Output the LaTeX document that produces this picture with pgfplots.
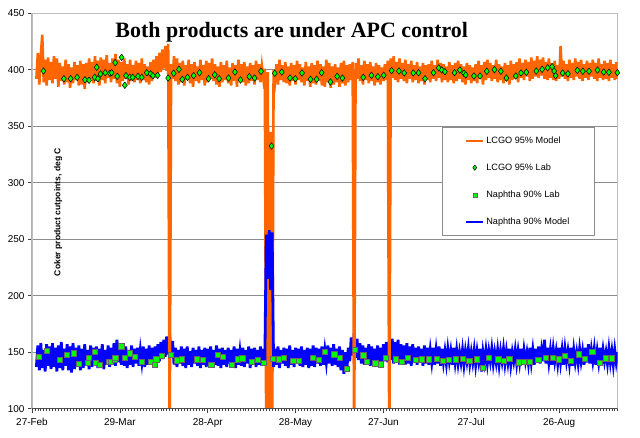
\documentclass[border=0pt]{standalone}
\usepackage{fontspec}
\setmainfont{Liberation Sans}
\newfontfamily\titlefont{Liberation Serif}
\usepackage{pgfplots}
\pgfplotsset{compat=1.18}
\definecolor{lcgo}{RGB}{255,102,0}
\definecolor{nap}{RGB}{0,0,255}
\definecolor{labg}{RGB}{0,255,0}
\begin{document}
\begin{tikzpicture}
\begin{axis}[
  scale only axis, width=585.7bp, height=395.4bp,
  xmin=0, xmax=200, ymin=100, ymax=450,
  xtick={0,30,...,180},
  xticklabels={27-Feb,29-Mar,28-Apr,28-May,27-Jun,27-Jul,26-Aug},
  minor xtick={0,1,...,200},
  ytick={100,150,...,450},
  ymajorgrids, grid style={black!45, line width=0.8bp},
  axis line style={black!25, line width=1.4bp},
  tick style={black!75, line width=0.6bp},
  major tick length=4bp, minor tick length=2.5bp,
  tick align=outside, tick pos=left,
  tick label style={font=\fontsize{10}{12}\selectfont},
  xticklabel style={yshift=-2bp},
  /pgf/number format/assume math mode=true,
  legend cell align=left,
  legend style={at={(0.700,0.712)}, anchor=north west, draw=black!45, fill=white,
    line width=0.6bp, font=\fontsize{9.2}{11}\selectfont,
    inner xsep=23bp, inner ysep=7bp, row sep=15bp},
]
% Naphtha 90% Model, part A
\addplot[nap, line width=2.8bp, forget plot] table[header=false, row sep=\\, x expr={1.5+0.5*\coordindex}, y index=0] {
137\\ 156\\ 134\\ 158\\ 136\\ 152\\ 133\\ 157\\ 138\\ 155\\
135\\ 158\\ 137\\ 154\\ 133\\ 156\\ 136\\ 159\\ 134\\ 153\\
138\\ 157\\ 134\\ 155\\ 132\\ 158\\ 135\\ 154\\ 137\\ 156\\
134\\ 153\\ 136\\ 157\\ 138\\ 152\\ 135\\ 156\\ 137\\ 154\\
139\\ 155\\ 136\\ 153\\ 138\\ 157\\ 135\\ 152\\ 139\\ 156\\
137\\ 154\\ 140\\ 158\\ 138\\ 161\\ 141\\ 155\\ 139\\ 153\\
138\\ 155\\ 136\\ 152\\ 139\\ 156\\ 137\\ 153\\ 140\\ 154\\
138\\ 152\\ 141\\ 155\\ 137\\ 153\\ 139\\ 156\\ 140\\ 154\\
141\\ 155\\ 139\\ 157\\ 142\\ 159\\ 144\\ 161\\ 146\\ 164\\
148\\ 166\\ 147\\ 160\\ 139\\ 154\\ 137\\ 152\\ 140\\ 155\\
138\\ 153\\ 136\\ 155\\ 139\\ 151\\ 137\\ 154\\ 140\\ 152\\
138\\ 155\\ 136\\ 152\\ 139\\ 154\\ 137\\ 153\\ 140\\ 155\\
137\\ 152\\ 139\\ 156\\ 138\\ 153\\ 136\\ 154\\ 139\\ 152\\
137\\ 154\\ 140\\ 152\\ 138\\ 155\\ 136\\ 153\\ 139\\ 151\\
138\\ 154\\ 137\\ 152\\ 140\\ 155\\ 136\\ 153\\ 139\\ 154\\
137\\ 152\\ 139\\ 155\\ 138\\ 153\\ 140\\
};
% Naphtha 90% Model, part C
\addplot[nap, line width=2.8bp, forget plot] table[header=false, row sep=\\, x expr={82.5+0.5*\coordindex}, y index=0] {
137\\ 153\\ 139\\ 155\\ 136\\ 152\\ 140\\ 154\\
138\\ 153\\ 136\\ 156\\ 139\\ 152\\ 137\\ 154\\ 140\\ 153\\
138\\ 155\\ 137\\ 152\\ 139\\ 154\\ 136\\ 153\\ 138\\ 156\\
137\\ 154\\ 140\\ 153\\ 138\\ 155\\ 139\\ 152\\ 141\\ 156\\
140\\ 154\\ 138\\ 157\\ 139\\ 153\\ 137\\ 155\\ 134\\ 152\\
131\\ 150\\ 133\\ 154\\ 142\\ 163\\ 147\\ 167\\ 145\\ 162\\
143\\ 158\\ 140\\ 156\\ 139\\ 154\\ 141\\ 157\\ 138\\ 155\\
139\\ 153\\ 141\\ 156\\ 138\\ 154\\ 140\\ 157\\ 142\\ 159\\
141\\ 160\\ 143\\ 162\\ 140\\ 159\\ 142\\ 161\\ 139\\ 157\\
141\\ 156\\ 139\\ 158\\ 140\\ 155\\ 138\\ 157\\ 141\\ 154\\
139\\ 155\\ 141\\ 153\\ 138\\ 156\\ 140\\ 154\\ 139\\ 152\\
141\\ 154\\ 139\\ 152\\ 140\\ 155\\ 138\\ 153\\ 141\\ 151\\
140\\ 153\\ 142\\ 151\\ 139\\ 154\\ 141\\ 152\\ 140\\ 150\\
141\\ 152\\ 139\\ 151\\ 142\\ 153\\ 140\\ 150\\ 141\\ 152\\
139\\ 151\\ 142\\ 153\\ 133\\ 150\\ 141\\ 152\\ 140\\ 151\\
142\\ 153\\ 140\\ 150\\ 141\\ 152\\ 139\\ 151\\ 142\\ 153\\
140\\ 151\\ 141\\ 153\\ 139\\ 150\\ 142\\ 152\\ 140\\ 151\\
141\\ 153\\ 139\\ 152\\ 142\\ 150\\ 140\\ 154\\ 141\\ 152\\
139\\ 153\\ 141\\ 155\\ 140\\ 152\\ 142\\ 161\\ 140\\ 154\\
141\\ 152\\ 139\\ 153\\ 142\\ 151\\ 140\\ 154\\ 141\\ 152\\
139\\ 153\\ 142\\ 151\\ 140\\ 154\\ 138\\ 152\\ 141\\ 150\\
140\\ 153\\ 142\\ 151\\ 139\\ 154\\ 141\\ 157\\ 140\\ 152\\
142\\ 153\\ 139\\ 151\\ 141\\ 154\\ 140\\ 152\\ 142\\ 150\\
140\\ 153\\ 141\\ 151\\ 139\\ 152\\ 141\\ 150\\
};
% LCGO 95% Model
\addplot[lcgo, line width=2.6bp, forget plot] table[header=false, row sep=\\, x expr={1.5+0.5*\coordindex}, y index=0] {
392\\ 415\\ 387\\ 412\\ 431\\ 389\\ 409\\ 386\\ 411\\ 391\\
407\\ 388\\ 412\\ 392\\ 410\\ 385\\ 406\\ 390\\ 403\\ 387\\
409\\ 389\\ 405\\ 384\\ 402\\ 388\\ 407\\ 391\\ 404\\ 386\\
408\\ 387\\ 405\\ 383\\ 406\\ 389\\ 410\\ 392\\ 407\\ 388\\
412\\ 390\\ 408\\ 386\\ 411\\ 391\\ 409\\ 388\\ 413\\ 393\\
406\\ 389\\ 410\\ 392\\ 414\\ 388\\ 409\\ 385\\ 407\\ 390\\
410\\ 392\\ 405\\ 387\\ 409\\ 390\\ 404\\ 389\\ 408\\ 391\\
406\\ 388\\ 410\\ 391\\ 405\\ 389\\ 403\\ 387\\ 407\\ 390\\
409\\ 393\\ 412\\ 395\\ 415\\ 398\\ 418\\ 401\\ 421\\ 399\\
423\\ 60\\ 405\\ 392\\ 412\\ 390\\ 410\\ 387\\ 406\\ 389\\
408\\ 386\\ 404\\ 391\\ 409\\ 388\\ 405\\ 385\\ 407\\ 390\\
403\\ 388\\ 409\\ 391\\ 404\\ 386\\ 408\\ 389\\ 406\\ 392\\
410\\ 390\\ 405\\ 387\\ 403\\ 385\\ 407\\ 389\\ 404\\ 391\\
408\\ 388\\ 402\\ 386\\ 406\\ 390\\ 404\\ 385\\ 409\\ 391\\
405\\ 389\\ 407\\ 386\\ 403\\ 388\\ 406\\ 390\\ 404\\ 387\\
408\\ 391\\ 405\\ 389\\ 403\\ 392\\ 401\\ 60\\ 398\\ 60\\
345\\ 60\\ 400\\ 390\\ 405\\ 387\\ 409\\ 391\\ 404\\ 389\\
407\\ 388\\ 403\\ 386\\ 406\\ 390\\ 404\\ 387\\ 408\\ 391\\
405\\ 389\\ 402\\ 386\\ 407\\ 390\\ 403\\ 385\\ 406\\ 388\\
404\\ 387\\ 408\\ 390\\ 405\\ 386\\ 403\\ 385\\ 409\\ 389\\
406\\ 384\\ 403\\ 387\\ 405\\ 389\\ 402\\ 385\\ 406\\ 388\\
408\\ 386\\ 404\\ 389\\ 405\\ 391\\ 407\\ 60\\ 406\\ 392\\
410\\ 390\\ 404\\ 387\\ 408\\ 391\\ 405\\ 388\\ 407\\ 390\\
403\\ 386\\ 406\\ 389\\ 404\\ 387\\ 402\\ 390\\ 405\\ 391\\
408\\ 60\\ 410\\ 393\\ 412\\ 391\\ 407\\ 389\\ 410\\ 392\\
406\\ 390\\ 409\\ 388\\ 405\\ 392\\ 408\\ 389\\ 404\\ 391\\
407\\ 388\\ 403\\ 390\\ 406\\ 387\\ 404\\ 391\\ 405\\ 389\\
408\\ 392\\ 404\\ 390\\ 409\\ 393\\ 406\\ 389\\ 405\\ 391\\
403\\ 389\\ 407\\ 391\\ 404\\ 388\\ 406\\ 390\\ 408\\ 392\\
405\\ 389\\ 403\\ 387\\ 406\\ 391\\ 404\\ 388\\ 402\\ 390\\
405\\ 388\\ 408\\ 392\\ 404\\ 387\\ 407\\ 391\\ 409\\ 393\\
406\\ 390\\ 404\\ 392\\ 409\\ 389\\ 405\\ 391\\ 403\\ 388\\
406\\ 390\\ 404\\ 387\\ 408\\ 391\\ 405\\ 392\\ 407\\ 389\\
410\\ 393\\ 406\\ 391\\ 409\\ 394\\ 407\\ 390\\ 411\\ 392\\
408\\ 394\\ 412\\ 393\\ 409\\ 395\\ 411\\ 392\\ 407\\ 391\\
410\\ 393\\ 406\\ 391\\ 408\\ 390\\ 404\\ 392\\ 421\\ 394\\
408\\ 392\\ 405\\ 390\\ 409\\ 393\\ 406\\ 391\\ 410\\ 394\\
407\\ 392\\ 409\\ 390\\ 405\\ 393\\ 408\\ 391\\ 406\\ 394\\
409\\ 392\\ 406\\ 390\\ 410\\ 393\\ 405\\ 391\\ 408\\ 392\\
406\\ 390\\ 409\\ 393\\ 405\\ 391\\ 407\\ 392\\
};
% Naphtha 90% Model, part B (spike, drawn over LCGO)
\addplot[nap, line width=2.8bp, forget plot] table[header=false, row sep=\\, x expr={79.5+0.5*\coordindex}, y index=0] {
140\\ 254\\ 215\\ 258\\ 205\\ 256\\ 137\\
};
% LCGO 95% Lab
\addplot[only marks, mark=diamond*, mark size=3.3bp, mark options={fill=labg, draw=black, line width=0.5bp}, forget plot] coordinates {
(3.9,398.9)(10.9,392.1)(13.2,392.1)(15.4,393.3)(18.1,391.2)(19.5,390.7)(21.4,393.3)(22.1,402.2)(22.5,392.1)(23.4,396.3)
(25.0,397.4)(26.6,396.9)(27.2,397.4)(28.4,406.3)(29.1,394.2)(30.6,411.0)(31.7,386.3)(32.1,394.8)(33.4,393.3)(34.4,393.3)
(36.2,394.2)(37.5,393.3)(39.2,397.4)(40.5,396.3)(41.3,394.8)(42.9,395.1)(46.5,392.7)(48.4,396.9)(50.2,400.4)(51.3,391.6)
(53.1,393.3)(55.2,394.8)(57.2,397.4)(60.3,392.1)(62.4,395.6)(63.9,392.1)(67.1,392.7)(69.3,398.0)(71.2,391.0)(74.2,393.9)
(76.0,392.7)(78.2,398.6)(81.8,332.5)(82.9,396.9)(85.3,398.0)(88.1,392.7)(89.9,392.1)(92.2,397.2)(95.1,391.6)(97.2,391.6)
(98.9,397.4)(101.9,389.2)(104.2,394.2)(106.0,392.7)(113.1,393.3)(115.9,395.1)(118.1,393.9)(120.1,395.1)(122.8,399.2)(125.3,398.9)
(127.1,397.2)(130.2,397.2)(132.0,397.4)(134.2,392.1)(137.1,397.4)(138.9,401.6)(139.9,399.8)(141.0,398.3)(144.3,397.4)(146.1,399.8)
(147.5,396.9)(148.1,395.4)(150.9,394.5)(153.0,394.5)(155.3,398.7)(157.9,400.1)(160.1,398.7)(162.0,392.7)(165.2,394.5)(167.0,397.2)
(168.8,397.8)(172.2,398.9)(174.2,400.4)(176.1,401.8)(177.6,402.7)(178.3,398.9)(178.8,394.8)(181.2,397.2)(183.0,396.5)(186.2,399.5)
(188.1,398.7)(190.2,398.7)(193.1,399.8)(195.2,398.0)(197.0,397.8)(199.9,397.4)
};
% Naphtha 90% Lab
\addplot[only marks, mark=square*, mark size=2.6bp, mark options={fill=labg, draw=black!60, line width=0.5bp}, forget plot] coordinates {
(2.2,146.0)(5.0,151.1)(9.5,143.1)(12.0,147.5)(14.2,149.0)(16.0,139.6)(19.1,140.7)(19.4,145.1)(21.3,150.1)(21.8,140.7)
(23.2,139.0)(26.2,141.3)(27.0,141.9)(28.3,143.1)(28.4,145.1)(30.5,155.2)(31.7,145.1)(33.5,149.0)(35.1,145.7)(37.4,141.3)
(40.5,141.3)(42.0,138.7)(42.4,143.7)(44.2,146.6)(47.4,147.5)(49.6,142.8)(51.1,143.7)(56.2,143.7)(58.4,143.1)(61.2,138.7)
(63.5,147.5)(65.0,146.0)(68.3,138.7)(70.2,143.7)(71.8,144.6)(75.0,141.3)(77.0,143.1)(79.2,140.7)(82.1,144.0)(84.3,143.7)
(85.9,145.4)(89.2,142.5)(91.1,142.2)(96.0,145.4)(98.0,143.1)(100.0,150.1)(103.2,148.2)(105.1,145.1)(107.5,135.4)(110.3,152.5)
(113.1,147.3)(114.3,141.6)(117.2,140.2)(119.2,139.3)(120.9,145.1)(124.2,143.7)(126.3,141.9)(128.4,145.4)(131.0,143.1)(133.1,143.7)
(135.6,143.7)(138.1,144.0)(140.3,142.5)(142.2,143.1)(144.8,143.7)(147.0,144.0)(149.3,142.5)(151.8,143.7)(154.0,136.3)(156.1,144.9)
(159.2,143.7)(161.2,142.2)(163.0,144.0)(166.3,141.1)(167.9,141.6)(170.0,141.3)(172.9,143.1)(175.4,145.4)(177.7,145.4)(179.9,143.7)
(181.9,146.6)(184.0,142.2)(186.8,148.2)(188.8,144.0)(191.3,150.5)(193.8,140.7)(195.8,144.6)(198.1,144.6)
};
\addlegendimage{lcgo, line width=2bp}
\addlegendentry{LCGO 95\% Model}
\addlegendimage{only marks, mark=diamond*, mark size=2.6bp, mark options={fill=labg, draw=black, line width=0.5bp}}
\addlegendentry{LCGO 95\% Lab}
\addlegendimage{only marks, mark=square*, mark size=2bp, mark options={fill=labg, draw=black!60, line width=0.5bp}}
\addlegendentry{Naphtha 90\% Lab}
\addlegendimage{nap, line width=2bp}
\addlegendentry{Naphtha 90\% Model}
\draw[black!70, line width=1bp] (rel axis cs:0,1) -- (rel axis cs:0,0) -- (rel axis cs:1,0);
\node[anchor=base, font=\titlefont\bfseries\fontsize{22}{26}\selectfont] at (axis cs:88.7,428.4) {Both products are under APC control};
\node[rotate=90, font=\bfseries\fontsize{8.6}{10}\selectfont] at (axis cs:8.9,274) {Coker product cutpoints, deg C};
\end{axis}
\pgfresetboundingbox
\path[use as bounding box] ([xshift=-32bp,yshift=-29.3bp]current axis.south west) rectangle ([xshift=22.3bp,yshift=13.3bp]current axis.north east);
\end{tikzpicture}
\end{document}
